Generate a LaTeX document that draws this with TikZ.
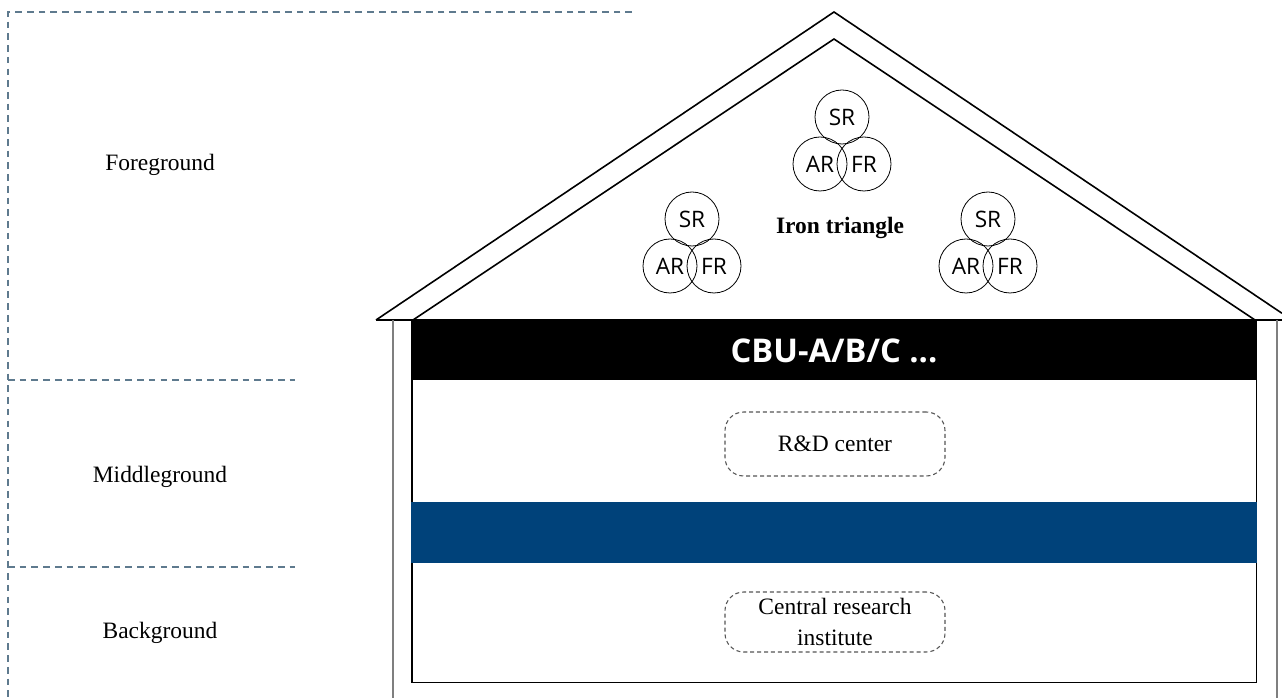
\documentclass[tikz,border=0pt]{standalone}
\usepackage{fontspec}
\setmainfont{Liberation Serif}
\newfontfamily\labelsans{Open Sans}
\definecolor{guide}{HTML}{5E7A8E}
\definecolor{floorblue}{HTML}{00427A}
\definecolor{wallgrey}{HTML}{7F7F7F}
\definecolor{boxgrey}{HTML}{555555}
\begin{document}
\begin{tikzpicture}[x=0.75pt,y=-0.75pt,
  guideline/.style={draw=guide,line width=0.8pt,dash pattern=on 5pt off 3.8pt},
  zonelabel/.style={font=\fontsize{17.6pt}{21pt}\selectfont,anchor=center},
  roofline/.style={draw=black,line width=1.2pt,line join=miter},
  wallline/.style={draw=wallgrey,line width=1.5pt},
  unitbox/.style={draw=boxgrey,dashed,dash pattern=on 3pt off 2.2pt,line width=0.8pt,
    rounded corners=14pt,minimum width=165pt,inner sep=0pt,align=center,
    font=\fontsize{17.6pt}{23pt}\selectfont},
  role/.style={circle,draw=black,line width=0.6pt,minimum size=40.5pt,inner sep=0pt,
    font=\labelsans\fontsize{17pt}{19pt}\selectfont}]
\useasboundingbox (0,0) rectangle (1282,698);

% left-hand guide frame for the three layers
\coordinate (gTL) at (8,12);
\coordinate (gTR) at (632,12);
\coordinate (gBL) at (8,698);
\coordinate (gM1L) at (8,380);
\coordinate (gM1R) at (295,380);
\coordinate (gM2L) at (8,567);
\coordinate (gM2R) at (295,567);
\draw[guideline] (gTR) -- (gTL) -- (gBL);
\draw[guideline] (gM1L) -- (gM1R);
\draw[guideline] (gM2L) -- (gM2R);

\node[zonelabel] (fg) at (160,165) {Foreground};
\node[zonelabel] (mg) at (160,477) {Middleground};
\node[zonelabel] (bg) at (160,633) {Background};

% roof
\coordinate (apexO) at (834,12);
\coordinate (apexI) at (834,39);
\coordinate (eaveL) at (376,320);
\coordinate (eaveR) at (1282,313.3);
\coordinate (eaveRb) at (1282,320);
\coordinate (roofIL) at (413,320);
\coordinate (roofIR) at (1255,320);
\draw[roofline] (eaveL) -- (apexO) -- (eaveR);
\draw[roofline] (roofIL) -- (apexI) -- (roofIR);
\draw[roofline] (eaveL) -- (eaveRb);

% outer walls
\coordinate (wallLt) at (392.7,320);
\coordinate (wallLb) at (392.7,698);
\coordinate (wallRt) at (1276.7,320);
\coordinate (wallRb) at (1276.7,698);
\draw[wallline] (wallLt) -- (wallLb);
\draw[wallline] (wallRt) -- (wallRb);

% inner hall
\coordinate (hallTL) at (412,320);
\coordinate (hallBR) at (1256.5,682.7);
\draw[black,line width=1.1pt] (hallTL) rectangle (hallBR);

% business-unit band
\fill[black] (412,320) rectangle (1256.5,380);
\node[text=white,font=\labelsans\bfseries\fontsize{24.5pt}{27pt}\selectfont] (cbu) at (834,351) {CBU-A/B/C ...};

% blue floor
\fill[floorblue] (411,502) rectangle (1256.5,562.5);

% units
\node[unitbox,minimum height=48pt] (rd) at (835,444) {R\&D center};
\node[unitbox,minimum height=45pt] (cri) at (835,622) {Central research\\institute};

% iron triangles
\foreach \n/\cx/\cy in {l/692/219, t/842/117, r/988/219}{
  \node[role] (sr\n) at (\cx,\cy) {SR};
  \node[role] (ar\n) at ({\cx-22},{\cy+47}) {AR};
  \node[role] (fr\n) at ({\cx+22},{\cy+47}) {FR};
}
\node[font=\bfseries\fontsize{17.6pt}{20pt}\selectfont] (iron) at (840,228) {Iron triangle};
\end{tikzpicture}
\end{document}
